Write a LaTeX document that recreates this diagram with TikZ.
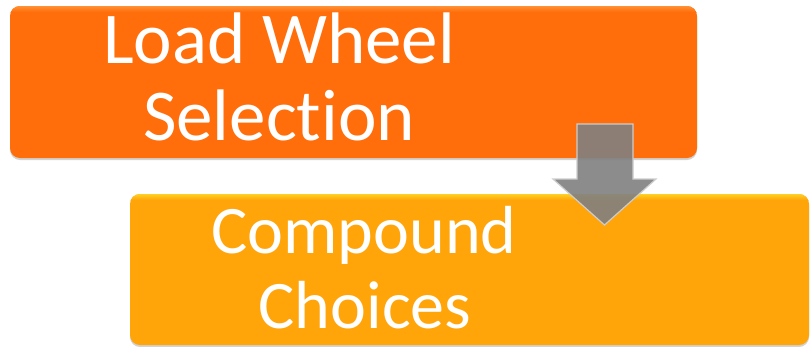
\documentclass[tikz,border=0pt]{standalone}
\usepackage{fontspec}
\setmainfont[Ligatures={NoCommon,NoContextual,NoRare}]{Carlito}
\usetikzlibrary{shadows}
\definecolor{orangeA}{RGB}{255,110,10}
\definecolor{orangeAtop}{RGB}{255,150,60}
\definecolor{orangeB}{RGB}{255,165,10}
\definecolor{orangeBtop}{RGB}{255,215,40}
\definecolor{arrowgray}{RGB}{128,128,128}
\definecolor{arrowedge}{RGB}{205,205,205}
\tikzset{
  boxA/.style={fill=orangeA, rounded corners=10pt,
     drop shadow={shadow xshift=0pt, shadow yshift=-2pt, opacity=0.35}},
  boxB/.style={fill=orangeB, rounded corners=10pt,
     drop shadow={shadow xshift=0pt, shadow yshift=-2pt, opacity=0.35}},
  lblA/.style={text=white, inner sep=0pt, anchor=base, font=\fontsize{73}{77}\selectfont},
  lblB/.style={text=white, inner sep=0pt, anchor=base, font=\fontsize{68}{75}\selectfont},
  blockarrow/.style={fill=arrowgray, fill opacity=0.9, draw=arrowedge, line width=1.2pt, line join=miter}
}
\begin{document}
\begin{tikzpicture}[x=1pt,y=-1pt]
\useasboundingbox (0,0) rectangle (811,346);
\fill[white] (0,0) rectangle (811,346);
% boxes
\path[boxA] (10,6) rectangle (697,158);
\begin{scope}
  \clip[rounded corners=10pt] (10,6) rectangle (697,158);
  \shade[top color=orangeAtop, bottom color=orangeA] (10,5) rectangle (697,12);
\end{scope}
\path[boxB] (130,194) rectangle (809,345);
\begin{scope}
  \clip[rounded corners=10pt] (130,194) rectangle (809,345);
  \shade[top color=orangeBtop, bottom color=orangeB] (130,193) rectangle (809,200);
\end{scope}
% labels
\node[lblA] (a1) at (279,63) {Load Wheel};
\node[lblA] (a2) at (279,140) {Select\kern0pt ion};
\node[lblB] (b1) at (364,253) {Compound};
\node[lblB] (b2) at (365,328) {Choices};
% arrow
\coordinate (arrtip) at (604.5,225);
\draw[blockarrow] (577,124) -- (633,124) -- (633,179) -- (656,179) -- (arrtip) -- (553,179) -- (577,179) -- cycle;
\end{tikzpicture}
\end{document}
